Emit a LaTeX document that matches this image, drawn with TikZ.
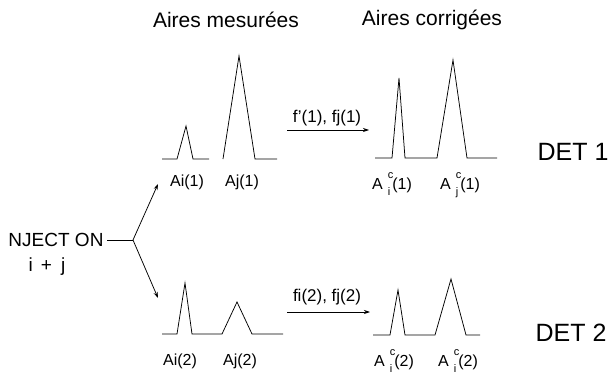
\documentclass[tikz,border=0pt]{standalone}
\usepackage{fontspec}
\setmainfont{Liberation Sans}
\usetikzlibrary{arrows.meta}
\newcommand{\fsz}[1]{\fontsize{#1}{#1}\selectfont}
\newcommand{\Acorr}[2]{A\kern5pt\raisebox{11pt}{\rlap{\fsz{11}c}}\raisebox{-6pt}{\fsz{11}#1}\kern2pt(#2)}
\tikzset{
  curve/.style={line width=0.75pt, line join=miter},
  conn/.style={line width=0.75pt, -{Stealth[length=6pt,width=4pt]}},
  titletxt/.style={font=\fsz{21}, inner sep=0pt},
  lbl/.style={font=\fsz{16}, inner sep=0pt},
  arrlbl/.style={font=\fsz{17}, inner sep=0pt},
  dettxt/.style={font=\fsz{25}, inner sep=0pt},
  injtxt/.style={font=\fsz{19}, inner sep=0pt}
}
\begin{document}
\begin{tikzpicture}[x=1pt,y=-1pt]
\useasboundingbox (0,0) rectangle (615,377);

% titles
\node[titletxt] (tmes) at (226,20) {Aires mesurées};
\node[titletxt] (tcor) at (432,20) {Aires corrigées};

% DET 1 measured peaks
\draw[curve] (162,159) -- (177,159) -- (186,126) -- (193,159) -- (209,159);
\draw[curve] (223,159) -- (239,56) -- (255,159) -- (277,159);
% DET 1 corrected peaks
\draw[curve] (375,158) -- (392,158) -- (399,78) -- (405,158) -- (437,158) -- (453,60) -- (467,158) -- (497,158);

% DET 2 measured peaks
\draw[curve] (162,334) -- (177,334) -- (185,283) -- (192,334) -- (222,334) -- (237,302) -- (252,334) -- (283,334);
% DET 2 corrected peaks
\draw[curve] (373,335) -- (390,335) -- (398,290) -- (405,335) -- (435,335) -- (451,279) -- (466,335) -- (480,335);

% peak labels
\node[lbl] (ai1) at (187,182) {Ai(1)};
\node[lbl] (aj1) at (242,182) {Aj(1)};
\node[lbl,anchor=base west] (aci1) at (372,189) {\Acorr{i}{1}};
\node[lbl,anchor=base west] (acj1) at (440,189) {\Acorr{j}{1}};
\node[lbl] (ai2) at (180,361) {Ai(2)};
\node[lbl] (aj2) at (240,361) {Aj(2)};
\node[lbl,anchor=base west] (aci2) at (374,366) {\Acorr{i}{2}};
\node[lbl,anchor=base west] (acj2) at (438,366) {\Acorr{i}{2}};

% DET labels
\node[dettxt] (det1) at (573,152) {DET 1};
\node[dettxt] (det2) at (571,333) {DET 2};

% injection
\node[injtxt] (inj) at (56,240) {NJECT ON};
\node[injtxt] (ij) at (47,267) {i\hspace{8pt}+\hspace{9pt}j};
\coordinate (dash) at (107,240);
\coordinate (junc) at (133,240);
\coordinate (up) at (158,184);
\coordinate (down) at (158,298);
\draw[line width=0.75pt] (dash) -- (junc);
\draw[conn] (junc) -- (up);
\draw[conn] (junc) -- (down);

% correction arrows
\coordinate (a1s) at (287,130);
\coordinate (a1e) at (369,130);
\coordinate (a2s) at (287,312);
\coordinate (a2e) at (370,312);
\draw[conn] (a1s) -- (a1e);
\draw[conn] (a2s) -- (a2e);
\node[arrlbl] (f1) at (327,118) {f'(1), fj(1)};
\node[arrlbl] (f2) at (327,297) {fi(2), fj(2)};
\end{tikzpicture}
\end{document}
